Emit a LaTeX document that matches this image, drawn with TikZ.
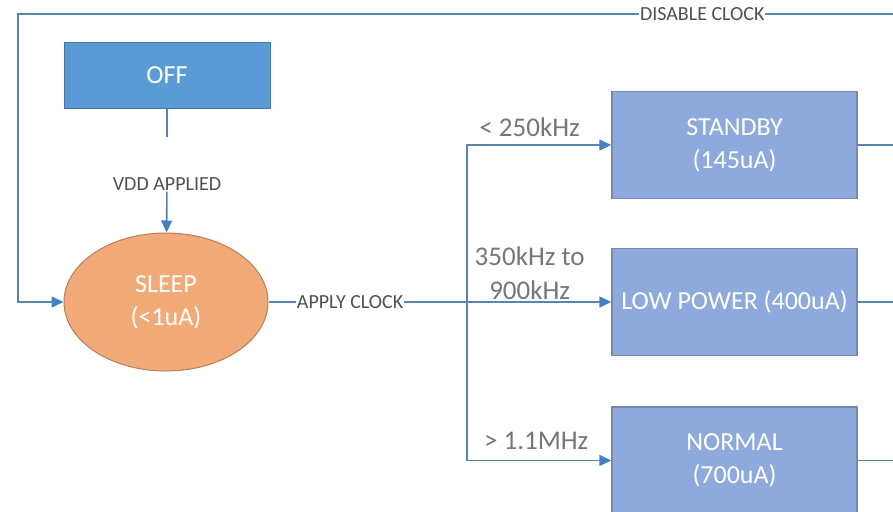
\documentclass[tikz,border=0pt]{standalone}
\usepackage{fontspec}
\setmainfont{Carlito}
\usetikzlibrary{arrows.meta,shapes.geometric}
\definecolor{offblue}{RGB}{91,155,213}
\definecolor{offedge}{RGB}{70,118,165}
\definecolor{sleeporange}{RGB}{242,170,120}
\definecolor{sleepedge}{RGB}{185,125,90}
\definecolor{modeblue}{RGB}{142,169,219}
\definecolor{modeedge}{RGB}{118,136,172}
\definecolor{wireblue}{RGB}{88,132,175}
\definecolor{tipblue}{RGB}{65,130,195}
\definecolor{labelgray}{RGB}{118,118,118}
\definecolor{notegray}{RGB}{80,80,80}

\begin{document}
\begin{tikzpicture}[x=1pt,y=-1pt]

%
% Styles
%
\tikzstyle{poweroff} = [rectangle,draw=offedge,fill=offblue,line width=1pt,text=white,minimum width=206pt,minimum height=65pt,font=\fontsize{26}{33}\selectfont]
\tikzstyle{sleepstate} = [ellipse,draw=sleepedge,fill=sleeporange,line width=1pt,text=white,minimum width=204pt,minimum height=138pt,inner sep=0pt,align=center,font=\fontsize{26}{33}\selectfont]
\tikzstyle{state} = [rectangle,draw=modeedge,fill=modeblue,line width=1.5pt,text=white,minimum width=245pt,minimum height=107pt,align=center,font=\fontsize{26}{33}\selectfont]
\tikzstyle{wire} = [draw=wireblue,line width=1.6pt]
\tikzstyle{flow} = [wire,-{Triangle[length=12pt,width=11pt,color=tipblue]}]
\tikzstyle{tag} = [fill=white,text=notegray,inner sep=1pt,font=\fontsize{20}{24}\selectfont]
\tikzstyle{freq} = [text=labelgray,align=center,inner sep=2pt,font=\fontsize{27}{34}\selectfont]

\useasboundingbox (0,0) rectangle (893,511);

\node[poweroff] (off) at (167,75.5) {OFF};
\node[sleepstate] (sleep) at (166,302) {SLEEP\\(<1uA)};
\node[state] (standby) at (734.5,145) {STANDBY\\(145uA)};
\node[state] (lowpower) at (734.5,302) {LOW POWER (400uA)};
\node[state] (normal) at (734.5,460.5) {NORMAL\\(700uA)};

\coordinate (offstub) at (167,137);
\coordinate (split) at (467,302);
\coordinate (rtop) at (893,14);
\coordinate (ltop) at (18,14);

\node[tag] (vdd) at (167,184) {VDD APPLIED};
\draw[wire] (off) -- (offstub);
\draw[flow] (vdd) -- (sleep);

\draw[flow] (sleep) -- node[tag,pos=0.238] {APPLY CLOCK}
  node[freq,pos=0.762,anchor=south] {350kHz to\\900kHz} (lowpower);
\draw[flow] (split) |- node[freq,pos=0.717,anchor=south,yshift=6pt] {< 250kHz} (standby);
\draw[flow] (split) |- node[freq,pos=0.74,anchor=south,yshift=8pt] {> 1.1MHz} (normal);

\draw[wire] (standby) -- (standby -| rtop);
\draw[wire] (lowpower) -- (lowpower -| rtop);
\draw[wire] (normal) -- (normal -| rtop);
\draw[flow] (rtop) -- node[tag,pos=0.218] {DISABLE CLOCK} (ltop) |- (sleep);

\end{tikzpicture}
\end{document}
